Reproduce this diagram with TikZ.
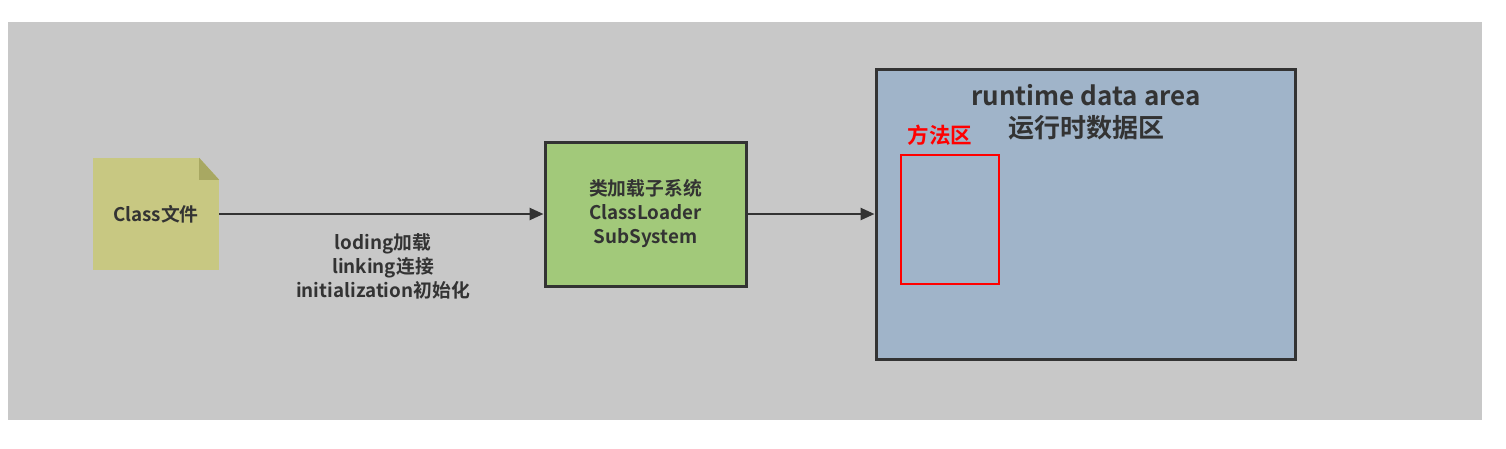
\documentclass[tikz,border=0pt]{standalone}
\usepackage{fontspec}
\setmainfont{Noto Sans CJK SC}[BoldFont={Noto Sans CJK SC Bold}]
\usepackage{tikz}
\usetikzlibrary{arrows,arrows.meta,positioning,calc}

\definecolor{bggray}{RGB}{200,200,200}
\definecolor{filefill}{RGB}{200,200,130}
\definecolor{folddark}{RGB}{168,168,98}
\definecolor{loaderfill}{RGB}{162,201,122}
\definecolor{areafill}{RGB}{160,180,201}
\definecolor{edgegray}{RGB}{51,51,51}
\definecolor{textgray}{RGB}{51,51,51}

\begin{document}
\begin{tikzpicture}[x=1pt,y=-1pt]
  \tikzstyle{txt}=[text=textgray, font=\bfseries\fontsize{18.8}{24}\selectfont, align=center]
  \tikzstyle{filebox}=[txt, fill=filefill, minimum width=126pt, minimum height=112pt, inner sep=0pt]
  \tikzstyle{box}=[txt, draw=edgegray, line width=3pt, minimum width=201pt, minimum height=144pt, inner sep=0pt]
  \tikzstyle{EdgeStyle}=[draw=edgegray, line width=2.5pt, -{Triangle[length=14pt,width=12pt]}]

  \useasboundingbox (0,0) rectangle (1506,448);
  \fill[bggray] (8,22) rectangle (1482,420);

  \node[filebox] (classfile) at (156,214) {Class文件};
  \fill[bggray] ($(classfile.north east)+(-20,0)$) -- (classfile.north east)
    -- ($(classfile.north east)+(0,22)$) -- cycle;
  \fill[folddark] ($(classfile.north east)+(-20,0)$) -- ($(classfile.north east)+(-20,22)$)
    -- ($(classfile.north east)+(0,22)$) -- cycle;

  \node[box, fill=loaderfill] (loader) at (645.5,214) {类加载子系统\\ClassLoader\\SubSystem};
  \node[box, fill=areafill, minimum width=419pt, minimum height=290pt] (area) at (1085.5,214) {};
  \node[txt, font=\bfseries\fontsize{26}{32}\selectfont] (areatitle) at (1086,112)
    {runtime data area\\运行时数据区};
  \node[draw=red, line width=1.5pt, minimum width=98pt, minimum height=129pt, inner sep=0pt]
    (method) at (950,219.5) {};
  \node[txt, text=red, font=\bfseries\fontsize{21.5}{24}\selectfont] (methodtitle) at (940,135) {方法区};

  \node[txt] (steps) at (383,266) {loding加载\\linking连接\\initialization初始化};

  \draw[EdgeStyle] (classfile) -- (loader);
  \draw[EdgeStyle] (loader) -- (area);
\end{tikzpicture}
\end{document}
